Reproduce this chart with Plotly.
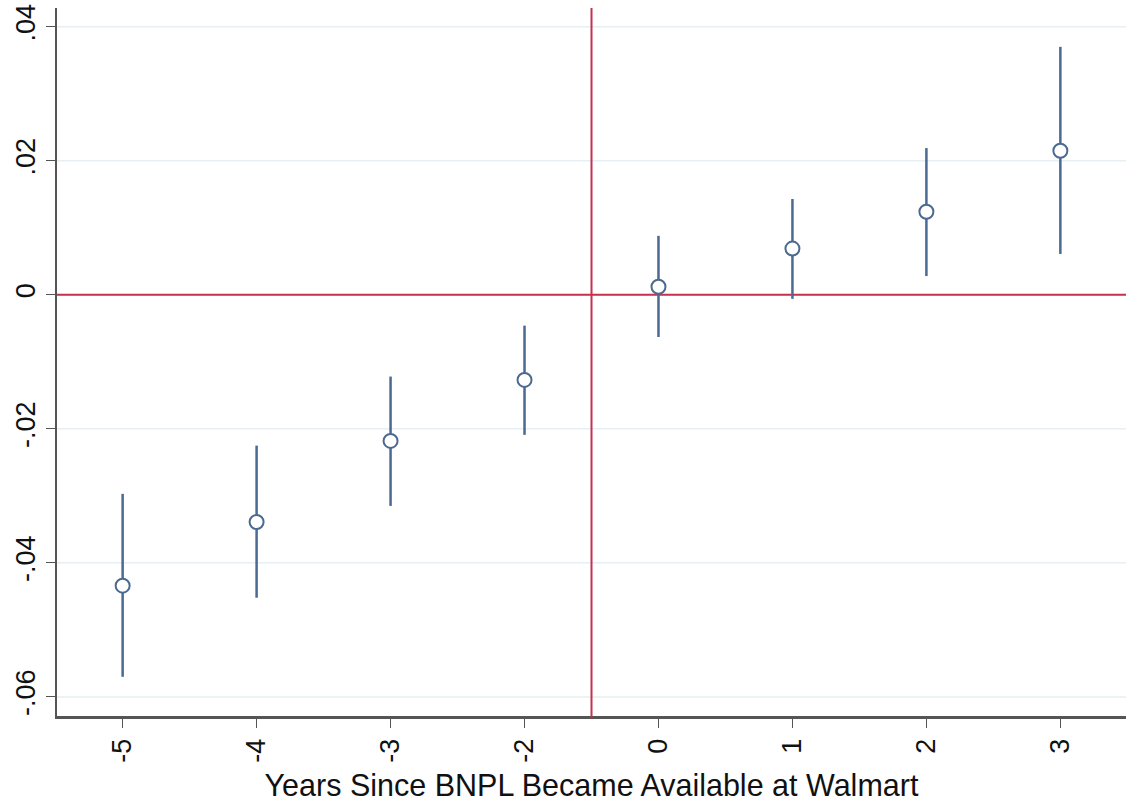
import plotly.graph_objects as go

years = ["-5", "-4", "-3", "-2", "0", "1", "2", "3"]
coef = [-0.0434, -0.0339, -0.0218, -0.0127, 0.0012, 0.0069, 0.0124, 0.0215]
ci_low = [-0.0570, -0.0452, -0.0315, -0.0209, -0.0063, -0.0006, 0.0028, 0.0061]
ci_high = [-0.0297, -0.0225, -0.0122, -0.0046, 0.0088, 0.0143, 0.0219, 0.0370]
y_ticks = [-0.06, -0.04, -0.02, 0, 0.02, 0.04]
y_tick_text = ["-.06", "-.04", "-.02", "0", ".02", ".04"]
x_range = [-0.49, 7.49]
y_range = [-0.063, 0.0428]
event_line_x = 3.5

blue = "#4a6a92"
red = "#c8304f"
grid = "#e6eff1"
axis_col = "#555555"
xpos = list(range(len(years)))

fig = go.Figure()
# light horizontal grid lines across the full x range
for yt in y_ticks:
    fig.add_trace(go.Scatter(x=x_range, y=[yt, yt], mode="lines", line=dict(color=grid, width=1.5),
                             showlegend=False, hoverinfo="skip", cliponaxis=False))
# bottom axis line across the full x range
fig.add_trace(go.Scatter(x=x_range, y=[y_range[0], y_range[0]], mode="lines",
                         line=dict(color=axis_col, width=2),
                         showlegend=False, hoverinfo="skip", cliponaxis=False))
# reference lines
fig.add_trace(go.Scatter(x=x_range, y=[0, 0], mode="lines", line=dict(color=red, width=2),
                         showlegend=False, hoverinfo="skip", cliponaxis=False))
fig.add_trace(go.Scatter(x=[event_line_x, event_line_x], y=y_range, mode="lines",
                         line=dict(color=red, width=2), showlegend=False, hoverinfo="skip"))
for i in xpos:
    fig.add_trace(go.Scatter(x=[i, i], y=[ci_low[i], ci_high[i]], mode="lines",
                             line=dict(color=blue, width=2.5), showlegend=False, hoverinfo="skip"))
fig.add_trace(go.Scatter(x=xpos, y=coef, mode="markers",
                         marker=dict(symbol="circle", size=14, color="white",
                                     line=dict(color=blue, width=2)),
                         showlegend=False, cliponaxis=False))

font = "Liberation Sans, Arial, sans-serif"
fig.update_layout(
    width=1126, height=806,
    showlegend=False,
    margin=dict(l=57, r=0, t=8, b=89, pad=0, autoexpand=False),
    plot_bgcolor="white", paper_bgcolor="white",
    font=dict(family=font, color="#111111"),
    xaxis=dict(
        range=x_range, tickmode="array", tickvals=xpos, ticktext=years,
        tickangle=-90, tickfont=dict(size=27), ticks="outside", ticklen=9,
        tickcolor=axis_col, showgrid=False, zeroline=False,
        showline=True, linecolor=axis_col, linewidth=2,
        title=dict(text="Years Since BNPL Became Available at Walmart",
                   font=dict(size=30.5), standoff=13),
        automargin=False,
    ),
    yaxis=dict(
        range=y_range, tickmode="array", tickvals=y_ticks, ticktext=y_tick_text,
        tickangle=-90, tickfont=dict(size=27), ticks="outside", ticklen=9,
        tickcolor=axis_col, showgrid=False,
        zeroline=False, showline=True, linecolor=axis_col, linewidth=2,
        automargin=False,
    ),
)

fig.write_html("out.html")
